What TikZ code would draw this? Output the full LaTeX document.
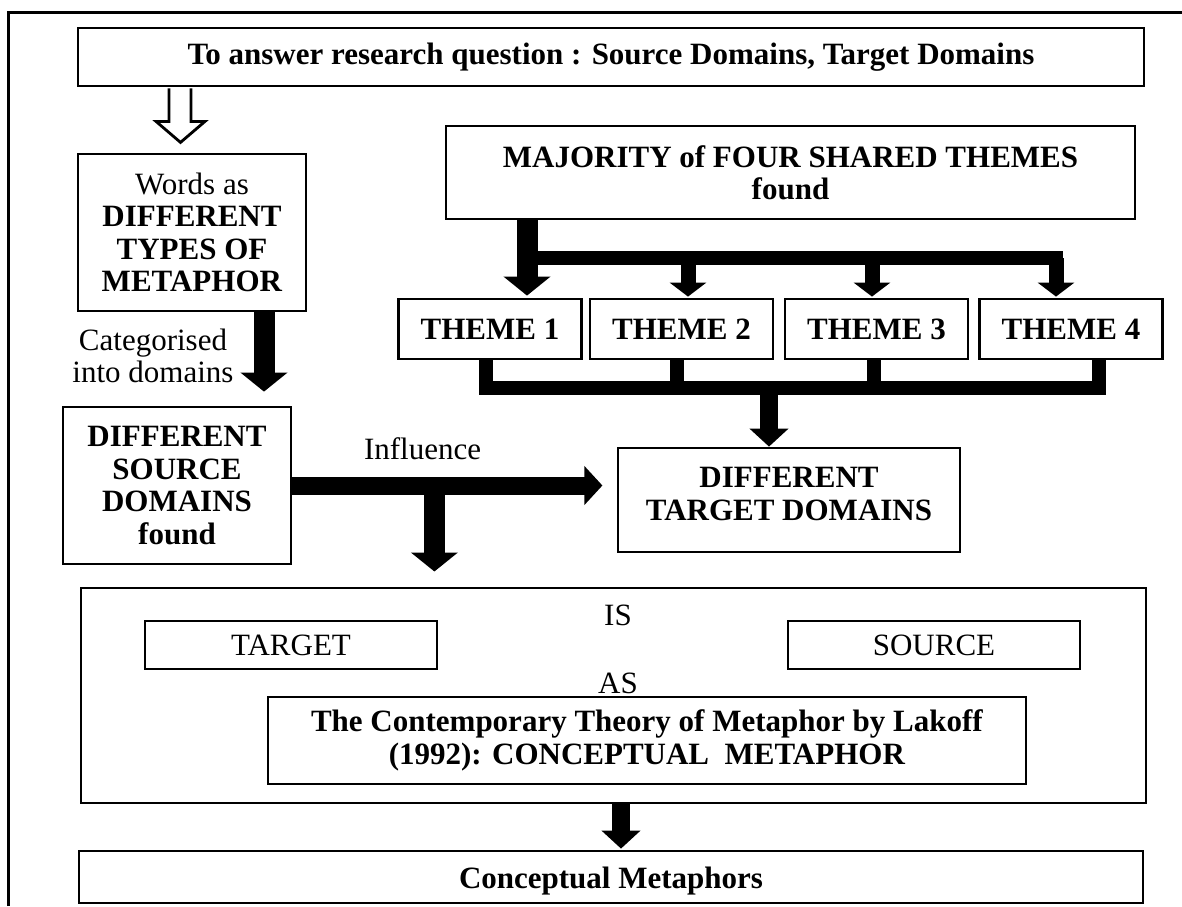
\documentclass[tikz,border=0pt]{standalone}
\usepackage{fontspec}
\setmainfont{Liberation Serif}
\usetikzlibrary{arrows.meta,calc}

\begin{document}
\begin{tikzpicture}[x=0.5pt,y=-0.5pt,font=\fontsize{15.5}{16.2}\selectfont,
  box/.style={draw,line width=1.4pt,align=center,inner sep=2pt},
  fatarrow/.style={line width=10.5pt,-{Triangle[width=23pt,length=9.5pt]}},
  midarrow/.style={line width=9pt,-{Triangle[width=19pt,length=9pt]}},
  smallarrow/.style={line width=7.5pt,-{Triangle[width=18pt,length=7pt]}},
  barline/.style={line width=7pt}]

\useasboundingbox (0,0) rectangle (1182,906);

% Outer frame
\draw[line width=1.2pt] (8.5,906) -- (8.5,12.5) -- (1182,12.5);

% Define boxes
\node[box,minimum width=533pt,minimum height=29pt] (question) at (611,57) {\textbf{To answer research question : Source Domains, Target Domains}};
\node[box,minimum width=114pt,minimum height=78.5pt] (words) at (192,232.5) {Words as\\\textbf{DIFFERENT}\\\textbf{TYPES OF}\\\textbf{METAPHOR}};
\node[box,minimum width=114pt,minimum height=78.5pt] (source) at (177,485.5) {\textbf{DIFFERENT}\\\textbf{SOURCE}\\\textbf{DOMAINS}\\\textbf{found}};
\node[box,minimum width=344.5pt,minimum height=46.5pt] (major) at (790.5,172.5) {\textbf{MAJORITY of FOUR SHARED THEMES}\\\textbf{found}};
\foreach \n/\x in {1/490,2/681.5,3/876.5,4/1071} {
  \node[box,minimum width=91.5pt,minimum height=30pt] (theme\n) at (\x,329) {\textbf{THEME \n}};
}
\node[box,minimum width=171pt,minimum height=52pt,text depth=6pt] (target) at (789,500) {\textbf{DIFFERENT}\\\textbf{TARGET DOMAINS}};

% Theory box with its parts
\node[box,minimum width=532.5pt,minimum height=107.5pt] (theory) at (613.5,695.5) {};
\node[box,minimum width=146pt,minimum height=24pt] (tgt) at (291,645) {TARGET};
\node[box,minimum width=146pt,minimum height=24pt] (src) at (934,645) {SOURCE};
\node (is) at (618,615) {IS};
\node (as) at (618,683) {AS};
\node[box,minimum width=379pt,minimum height=43.5pt] (lakoff) at (647,740.5) {\textbf{The Contemporary Theory of Metaphor by Lakoff}\\\textbf{(1992): CONCEPTUAL\ \ METAPHOR}};
\node[box,minimum width=532pt,minimum height=26pt,text height=14.5pt] (concept) at (611,877) {\textbf{Conceptual Metaphors}};

% Hollow arrow from question
\draw[line width=1.4pt,fill=white] ($(question.south)+(-442,1)$) -- ++(0,33) -- ++(-13,0) -- ++(24.5,21) -- ++(24.5,-21) -- ++(-14,0) -- ++(0,-33);

% Left column arrows
\draw[fatarrow] ($(words.south)+(72,0)$) -- ($(source.north)+(87,-14)$);
\node[align=center] (categ) at (153,356) {Categorised\\into domains};
\draw[midarrow] (source.east) -- ++(310,0) node[pos=0.42,above=5pt] (influence) {Influence};
\draw[fatarrow] ($(source.east)+(142,0)$) -- ++(0,86);

% Split to themes
\coordinate (fork) at ($(major.south)+(-263.5,38)$);
\draw[fatarrow] ($(major.south)+(-263.5,0)$) -- ($(theme1.north)+(37,-2)$);
\draw[barline] (fork) -- ($(fork -| theme4.north)+(-8,0)$);
\foreach \n/\dx in {2/6.5,3/-4.5,4/-15} {
  \draw[smallarrow] ($(theme\n.north |- fork)+(\dx,0)$) -- ($(theme\n.north)+(\dx,-1)$);
}

% Join themes to target
\coordinate (join) at ($(theme1.south)+(-4,27.5)$);
\draw[barline] ($(theme1.south)+(-4,0)$) |- ($(theme4.south)+(28,27.5)$) -- ($(theme4.south)+(28,0)$);
\foreach \n/\dx in {2/-4.5,3/-2.5} {
  \draw[barline] ($(theme\n.south)+(\dx,0)$) -- ++(0,27.5);
}
\draw[midarrow] ($(target.north |- join)+(-20,0)$) -- ($(target.north)+(-20,0)$);

% Down to result
\draw[midarrow] ($(theory.south)+(7.5,0)$) -- ($(concept.north)+(10,-1)$);

\end{tikzpicture}
\end{document}
